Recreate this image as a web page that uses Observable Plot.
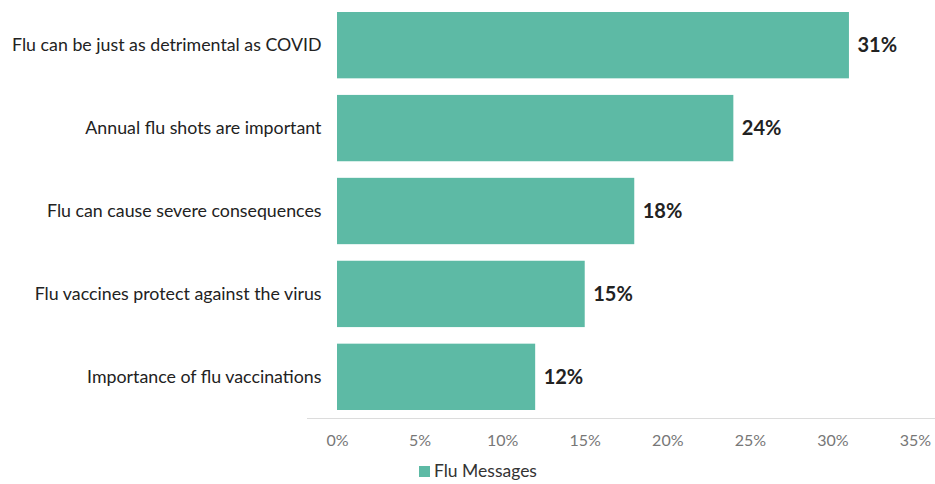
<!DOCTYPE html>
<html>
<head>
<meta charset="utf-8">
<script src="https://cdn.jsdelivr.net/npm/d3@7"></script>
<script src="https://cdn.jsdelivr.net/npm/@observablehq/plot@0.6"></script>
<style>
  body { margin: 0; background: #fff; font-family: Lato, "Open Sans", sans-serif; }
  #wrap { position: relative; width: 935px; height: 484px; overflow: hidden; }
  #legend { position: absolute; left: 419px; top: 461px; font-size: 17.5px; line-height: 20px; color: #333; display: flex; align-items: center; }
  #legend .sw { width: 11px; height: 11px; background: #5dbaa5; margin-right: 4px; }
</style>
</head>
<body>
<div id="wrap">
  <div id="chart"></div>
  <div id="legend"><span class="sw"></span><span>Flu Messages</span></div>
</div>
<script>
const categories = [
  "Flu can be just as detrimental as COVID",
  "Annual flu shots are important",
  "Flu can cause severe consequences",
  "Flu vaccines protect against the virus",
  "Importance of flu vaccinations"
];
const values = [31, 24, 18, 15, 12];
const xTicks = [0, 5, 10, 15, 20, 25, 30, 35];
const seriesName = "Flu Messages";

const data = categories.map((c, i) => ({category: c, value: values[i]}));

const chart = Plot.plot({
  width: 935,
  height: 458,
  marginLeft: 337,
  marginRight: 20,
  marginTop: 4,
  marginBottom: 40,
  style: {fontFamily: "Lato, sans-serif", background: "#fff"},
  x: {domain: [0, 35], ticks: xTicks, tickFormat: d => d + "%", label: null},
  y: {domain: categories, paddingInner: 0.2, paddingOuter: 0.0965, round: false, label: null},
  marks: [
    Plot.frame({anchor: "bottom", stroke: "#dcdcdc", insetLeft: -30, insetRight: -20}),
    Plot.ruleX([0], {stroke: "#dcdcdc", y1: null}),
    Plot.barX(data, {y: "category", x: "value", fill: "#5dbaa5"}),
    Plot.text(data, {y: "category", x: "value", text: d => d.value + "%", textAnchor: "start", dx: 8, fontSize: 20, fontWeight: "bold", fill: "#222"}),
    Plot.axisX({ticks: xTicks, tickFormat: d => d + "%", tickSize: 0, tickPadding: 16, fontSize: 16, fill: "#777", label: null}),
    Plot.axisY({tickSize: 0, tickPadding: 16, fontSize: 17.8, fill: "#222", label: null})
  ]
});
document.getElementById("chart").appendChild(chart);
</script>
</body>
</html>
